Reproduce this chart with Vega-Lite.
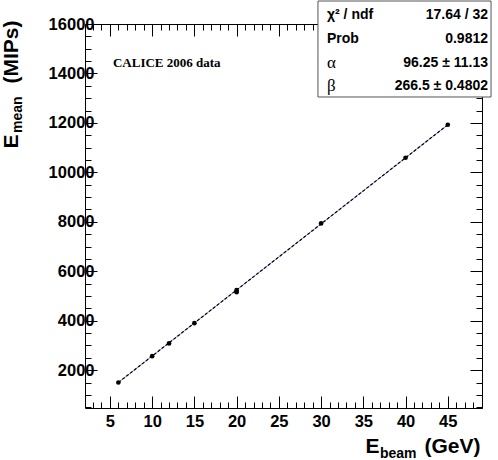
{
  "$schema": "https://vega.github.io/schema/vega-lite/v6.json",
  "width": 397,
  "height": 384,
  "autosize": "none",
  "padding": {"left": 85, "top": 24, "right": 16, "bottom": 52},
  "background": "white",
  "config": {
    "view": {"stroke": "black", "strokeWidth": 1},
    "axis": {"grid": false, "domain": false, "ticks": true, "tickColor": "black", "tickWidth": 1, "labelColor": "black", "titleColor": "black", "labelFont": "Liberation Sans", "labelFontWeight": "bold", "labelFontSize": 16.5, "titleFont": "Liberation Sans", "titleFontWeight": "bold", "labelOverlap": false, "labelFlush": false, "labelBound": false}
  },
  "datasets": {
    "points": [
      {"ebeam": 6, "emean": 1502},
      {"ebeam": 10, "emean": 2566},
      {"ebeam": 12, "emean": 3080},
      {"ebeam": 15, "emean": 3902},
      {"ebeam": 20, "emean": 5156},
      {"ebeam": 20, "emean": 5237},
      {"ebeam": 30, "emean": 7936},
      {"ebeam": 40, "emean": 10590},
      {"ebeam": 45, "emean": 11925}
    ],
    "fit": [
      {"ebeam": 6, "emean": 1502},
      {"ebeam": 45, "emean": 11925}
    ]
  },
  "resolve": {"axis": {"x": "independent", "y": "independent"}},
  "layer": [
    {
      "data": {"name": "fit"},
      "mark": {"type": "line", "color": "#8080e0", "strokeWidth": 1},
      "encoding": {
        "x": {"field": "ebeam", "type": "quantitative",
          "scale": {"domain": [2.05, 49.05], "nice": false, "zero": false},
          "axis": {"orient": "bottom", "tickSize": -12,
            "values": [5,10,15,20,25,30,35,40,45],
            "labelPadding": 17,
            "title": "E",
            "titleFontSize": 21, "titleX": 280, "titleY": 44, "titleAlign": "left", "titleBaseline": "alphabetic", "titleAngle": 0}},
        "y": {"field": "emean", "type": "quantitative",
          "scale": {"domain": [470, 16000], "nice": false, "zero": false},
          "axis": {"orient": "left", "tickSize": -12,
            "values": [2000,4000,6000,8000,10000,12000,14000,16000],
            "format": "d",
            "labelPadding": 3,
            "title": "E",
            "titleFontSize": 21, "titleX": -68, "titleY": 124, "titleAlign": "left", "titleBaseline": "alphabetic", "titleAngle": 270}}
      }
    },
    {
      "data": {"name": "fit"},
      "mark": {"type": "line", "color": "black", "strokeWidth": 1.2, "strokeDash": [3, 2]},
      "encoding": {
        "x": {"field": "ebeam", "type": "quantitative", "scale": {"domain": [2.05, 49.05], "nice": false, "zero": false},
          "axis": {"orient": "bottom", "tickSize": -6, "labels": false, "title": null,
            "values": [3,4,6,7,8,9,11,12,13,14,16,17,18,19,21,22,23,24,26,27,28,29,31,32,33,34,36,37,38,39,41,42,43,44,46,47,48,49]}},
        "y": {"field": "emean", "type": "quantitative", "scale": {"domain": [470, 16000], "nice": false, "zero": false},
          "axis": {"orient": "left", "tickSize": -6, "labels": false, "title": null,
            "values": [500,1000,1500,2500,3000,3500,4500,5000,5500,6500,7000,7500,8500,9000,9500,10500,11000,11500,12500,13000,13500,14500,15000,15500]}}
      }
    },
    {
      "data": {"name": "points"},
      "mark": {"type": "circle", "opacity": 0},
      "encoding": {
        "x": {"field": "ebeam", "type": "quantitative",
          "scale": {"domain": [2.05, 49.05], "nice": false, "zero": false},
          "axis": {"orient": "top", "tickSize": -12, "labels": false,
            "values": [5,10,15,20,25,30,35,40,45],
            "title": "(GeV)", "titleFontSize": 21, "titleX": 395, "titleY": 428, "titleAlign": "right", "titleBaseline": "alphabetic", "titleAngle": 0}},
        "y": {"field": "emean", "type": "quantitative",
          "scale": {"domain": [470, 16000], "nice": false, "zero": false},
          "axis": {"orient": "left", "offset": -397, "tickSize": 12, "labels": false,
            "values": [2000,4000,6000,8000,10000,12000,14000,16000],
            "title": "(MIPs)", "titleFontSize": 21, "titleX": -465, "titleY": -4, "titleAlign": "right", "titleBaseline": "alphabetic", "titleAngle": 270}}
      }
    },
    {
      "data": {"name": "points"},
      "mark": {"type": "circle", "color": "black", "size": 22, "opacity": 1},
      "encoding": {
        "x": {"field": "ebeam", "type": "quantitative", "scale": {"domain": [2.05, 49.05], "nice": false, "zero": false},
          "axis": {"orient": "top", "tickSize": -6, "labels": false, "title": null,
            "values": [3,4,6,7,8,9,11,12,13,14,16,17,18,19,21,22,23,24,26,27,28,29,31,32,33,34,36,37,38,39,41,42,43,44,46,47,48,49]}},
        "y": {"field": "emean", "type": "quantitative", "scale": {"domain": [470, 16000], "nice": false, "zero": false},
          "axis": {"orient": "left", "offset": -397, "tickSize": 6, "labels": false, "title": null,
            "values": [500,1000,1500,2500,3000,3500,4500,5000,5500,6500,7000,7500,8500,9000,9500,10500,11000,11500,12500,13000,13500,14500,15000,15500]}}
      }
    },
    {
      "data": {"values": [{"label": "beam"}]},
      "mark": {"type": "text", "font": "Liberation Sans", "fontWeight": "bold", "fontSize": 14, "align": "left", "baseline": "alphabetic", "color": "black"},
      "encoding": {
        "x": {"datum": 36.97, "type": "quantitative", "scale": {"domain": [2.05, 49.05], "nice": false, "zero": false}, "axis": null},
        "y": {"datum": -1551, "type": "quantitative", "scale": {"domain": [470, 16000], "nice": false, "zero": false}, "axis": null},
        "text": {"field": "label"}
      }
    },
    {
      "data": {"values": [{"label": "mean"}]},
      "mark": {"type": "text", "font": "Liberation Sans", "fontWeight": "bold", "fontSize": 14, "align": "left", "baseline": "alphabetic", "angle": 270, "color": "black"},
      "encoding": {
        "x": {"datum": -5.41, "type": "quantitative", "scale": {"domain": [2.05, 49.05], "nice": false, "zero": false}, "axis": null},
        "y": {"datum": 11592, "type": "quantitative", "scale": {"domain": [470, 16000], "nice": false, "zero": false}, "axis": null},
        "text": {"field": "label"}
      }
    },
    {
      "data": {"values": [{"label": "CALICE 2006 data"}]},
      "mark": {"type": "text", "font": "Liberation Serif", "fontWeight": "bold", "fontSize": 13, "align": "left", "baseline": "middle", "color": "black"},
      "encoding": {
        "x": {"datum": 5.36, "type": "quantitative", "scale": {"domain": [2.05, 49.05], "nice": false, "zero": false}, "axis": null},
        "y": {"datum": 14423, "type": "quantitative", "scale": {"domain": [470, 16000], "nice": false, "zero": false}, "axis": null},
        "text": {"field": "label"}
      }
    },
    {
      "data": {"values": [{"box": "stats"}]},
      "mark": {"type": "rect", "fill": "white", "stroke": "#555555", "strokeWidth": 1},
      "encoding": {
        "x": {"datum": 29.63, "type": "quantitative", "scale": {"domain": [2.05, 49.05], "nice": false, "zero": false}, "axis": null},
        "x2": {"datum": 50.12},
        "y": {"datum": 16930, "type": "quantitative", "scale": {"domain": [470, 16000], "nice": false, "zero": false}, "axis": null},
        "y2": {"datum": 13048}
      }
    },
    {
      "data": {"values": [{"stat": "χ² / ndf", "value": "17.64 / 32"}]},
      "encoding": {
        "y": {"datum": 16364, "type": "quantitative", "scale": {"domain": [470, 16000], "nice": false, "zero": false}, "axis": null}
      },
      "layer": [
        {"mark": {"type": "text", "font": "Liberation Sans", "fontWeight": "bold", "fontSize": 14, "align": "left", "baseline": "middle", "color": "black"},
         "encoding": {"x": {"datum": 30.7, "type": "quantitative", "scale": {"domain": [2.05, 49.05], "nice": false, "zero": false}, "axis": null}, "text": {"field": "stat"}}},
        {"mark": {"type": "text", "font": "Liberation Sans", "fontWeight": "bold", "fontSize": 14, "align": "right", "baseline": "middle", "color": "black"},
         "encoding": {"x": {"datum": 49.76, "type": "quantitative", "scale": {"domain": [2.05, 49.05], "nice": false, "zero": false}, "axis": null}, "text": {"field": "value"}}}
      ]
    },
    {
      "data": {"values": [{"stat": "Prob", "value": "0.9812"}]},
      "encoding": {
        "y": {"datum": 15393, "type": "quantitative", "scale": {"domain": [470, 16000], "nice": false, "zero": false}, "axis": null}
      },
      "layer": [
        {"mark": {"type": "text", "font": "Liberation Sans", "fontWeight": "bold", "fontSize": 14, "align": "left", "baseline": "middle", "color": "black"},
         "encoding": {"x": {"datum": 30.7, "type": "quantitative", "scale": {"domain": [2.05, 49.05], "nice": false, "zero": false}, "axis": null}, "text": {"field": "stat"}}},
        {"mark": {"type": "text", "font": "Liberation Sans", "fontWeight": "bold", "fontSize": 14, "align": "right", "baseline": "middle", "color": "black"},
         "encoding": {"x": {"datum": 49.76, "type": "quantitative", "scale": {"domain": [2.05, 49.05], "nice": false, "zero": false}, "axis": null}, "text": {"field": "value"}}}
      ]
    },
    {
      "data": {"values": [{"stat": "α", "value": "96.25 ± 11.13"}]},
      "encoding": {
        "y": {"datum": 14423, "type": "quantitative", "scale": {"domain": [470, 16000], "nice": false, "zero": false}, "axis": null}
      },
      "layer": [
        {"mark": {"type": "text", "font": "Liberation Serif", "fontWeight": "normal", "fontSize": 17, "align": "left", "baseline": "middle", "color": "black"},
         "encoding": {"x": {"datum": 30.7, "type": "quantitative", "scale": {"domain": [2.05, 49.05], "nice": false, "zero": false}, "axis": null}, "text": {"field": "stat"}}},
        {"mark": {"type": "text", "font": "Liberation Sans", "fontWeight": "bold", "fontSize": 14, "align": "right", "baseline": "middle", "color": "black"},
         "encoding": {"x": {"datum": 49.76, "type": "quantitative", "scale": {"domain": [2.05, 49.05], "nice": false, "zero": false}, "axis": null}, "text": {"field": "value"}}}
      ]
    },
    {
      "data": {"values": [{"stat": "β", "value": "266.5 ± 0.4802"}]},
      "encoding": {
        "y": {"datum": 13493, "type": "quantitative", "scale": {"domain": [470, 16000], "nice": false, "zero": false}, "axis": null}
      },
      "layer": [
        {"mark": {"type": "text", "font": "Liberation Serif", "fontWeight": "normal", "fontSize": 17, "align": "left", "baseline": "middle", "color": "black"},
         "encoding": {"x": {"datum": 30.7, "type": "quantitative", "scale": {"domain": [2.05, 49.05], "nice": false, "zero": false}, "axis": null}, "text": {"field": "stat"}}},
        {"mark": {"type": "text", "font": "Liberation Sans", "fontWeight": "bold", "fontSize": 14, "align": "right", "baseline": "middle", "color": "black"},
         "encoding": {"x": {"datum": 49.76, "type": "quantitative", "scale": {"domain": [2.05, 49.05], "nice": false, "zero": false}, "axis": null}, "text": {"field": "value"}}}
      ]
    }
  ]
}
